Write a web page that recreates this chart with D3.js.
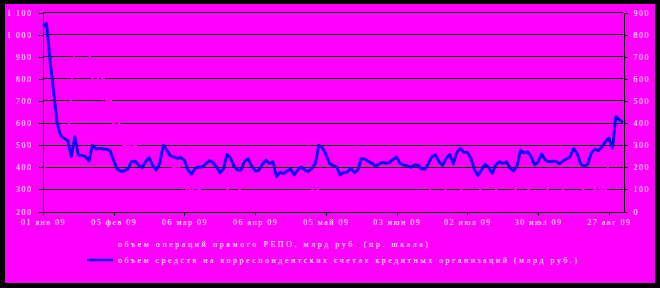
<!DOCTYPE html>
<html>
<head>
<meta charset="utf-8">
<script src="https://cdn.jsdelivr.net/npm/d3@7"></script>
<style>
	html, body { margin: 0; padding: 0; background: #000; }
	svg { display: block; }
	text { font-family: "Liberation Serif", "Times New Roman", serif; fill: #fff; }
</style>
</head>
<body>
<svg id="chart" width="660" height="288"></svg>
<script>
(function (d3) {

	// tick labels on the category axis, one every 20 trading days
	var tick_labels = ['01 янв 09', '05 фев 09', '06 мар 09', '06 апр 09', '05 май 09',
		'03 июн 09', '02 июл 09', '30 июл 09', '27 авг 09'];
	var tick_every = 20;

	var left_ticks = [200, 300, 400, 500, 600, 700, 800, 900, 1000, 1100];
	var right_ticks = [0, 100, 200, 300, 400, 500, 600, 700, 800, 900];

	var series_names = [
		'объем операций прямого РЕПО, млрд руб. (пр. шкала)',
		'объем средств на корреспондентских счетах кредитных организаций (млрд руб.)'
	];

	// correspondent accounts, bn rub (left axis)
	var corr_accounts = [
		1033, 1049, 880, 740, 595, 541, 529, 517, 446, 536,
		453, 452, 446, 426, 498, 480, 483, 480, 480, 471,
		426, 390, 379, 382, 390, 423, 426, 408, 396, 423,
		441, 405, 385, 415, 498, 476, 450, 444, 438, 441,
		429, 385, 366, 393, 399, 399, 414, 428, 421, 400,
		373, 390, 456, 441, 403, 385, 385, 426, 435, 405,
		381, 384, 411, 430, 415, 423, 355, 375, 369, 381,
		390, 363, 385, 400, 385, 378, 393, 415, 498, 486,
		456, 415, 405, 400, 363, 375, 376, 393, 373, 385,
		438, 434, 425, 415, 402, 413, 420, 415, 420, 434,
		443, 413, 408, 405, 397, 408, 408, 390, 390, 415,
		446, 453, 423, 406, 438, 456, 413, 465, 483, 465,
		465, 438, 385, 360, 387, 411, 397, 370, 408, 423,
		415, 423, 396, 381, 402, 475, 462, 468, 446, 408,
		423, 458, 431, 423, 425, 425, 413, 426, 435, 444,
		483, 461, 413, 402, 411, 461, 480, 473, 489, 514,
		529, 483, 627, 612, 600
	];

	// direct REPO, bn rub (right axis) - drawn in the background colour
	var repo = [
		150, 250, 260, 240, 270, 250, 230, 280, 560, 740,
		760, 720, 780, 730, 580, 660, 540, 620, 480, 520,
		380, 430, 350, 280, 320, 270, 310, 260, 240, 250,
		230, 260, 240, 250, 230, 240, 230, 180, 220, 170,
		130, 80, 120, 70, 110, 80, 70, 60, 50, 60,
		70, 80, 90, 120, 130, 110, 85, 80, 70, 60,
		75, 65, 70, 80, 60, 55, 65, 70, 75, 60,
		70, 80, 65, 70, 75, 85, 90, 115, 90, 80,
		70, 65, 60, 70, 75, 80, 70, 65, 60, 70,
		75, 80, 70, 65, 75, 80, 85, 70, 65, 70,
		75, 80, 85, 75, 70, 80, 85, 90, 85, 80,
		120, 130, 140, 125, 90, 80, 70, 85, 90, 115,
		120, 130, 140, 125, 85, 70, 75, 80, 90, 120,
		130, 125, 130, 115, 85, 75, 80, 90, 110, 130,
		140, 125, 115, 90, 80, 75, 85, 95, 115, 130,
		150, 130, 110, 90, 80, 85, 95, 90, 95, 90,
		240, 250, 230, 240, 260
	];

	var bg = '#ff00ff';
	var svg = d3.select('#chart');

	var margin = {left: 43, right: 623, top: 12, bottom: 211};

	var x = d3.scaleLinear().domain([0, corr_accounts.length - 1]).range([margin.left, margin.right]);
	var y_left = d3.scaleLinear().domain([200, 1100]).range([margin.bottom, margin.top]);
	var y_right = d3.scaleLinear().domain([0, 900]).range([margin.bottom, margin.top]);

	var fmt = d3.formatLocale({decimal: ',', thousands: ' ', grouping: [3], currency: ['', '']}).format(',d');

	svg.append('rect').attr('width', 660).attr('height', 288).attr('fill', '#000');
	svg.append('rect').attr('x', 5).attr('y', 4).attr('width', 650).attr('height', 279).attr('fill', bg);

	// gridlines
	svg.append('g')
		.selectAll('line')
		.data(left_ticks.slice(1))
		.join('line')
		.attr('x1', margin.left)
		.attr('x2', margin.right)
		.attr('y1', function(d) { return Math.round(y_left(d)) + 0.5; })
		.attr('y2', function(d) { return Math.round(y_left(d)) + 0.5; })
		.attr('stroke', '#000')
		.attr('shape-rendering', 'crispEdges');

	var repo_line = d3.line()
		.x(function(d, i) { return x(i); })
		.y(function(d) { return y_right(d); });

	var corr_line = d3.line()
		.x(function(d, i) { return x(i); })
		.y(function(d) { return y_left(d); });

	svg.append('path')
		.datum(repo)
		.attr('d', repo_line)
		.attr('fill', 'none')
		.attr('stroke', bg)
		.attr('stroke-width', 2.5);

	// axes
	var left_axis = d3.axisLeft(y_left).tickValues(left_ticks).tickSize(4).tickSizeOuter(0).tickPadding(6).tickFormat(fmt);
	var right_axis = d3.axisRight(y_right).tickValues(right_ticks).tickSize(4).tickSizeOuter(0).tickPadding(6).tickFormat(fmt);
	var bottom_axis = d3.axisBottom(x)
		.tickValues(d3.range(0, tick_labels.length * tick_every, tick_every))
		.tickSize(4).tickSizeOuter(0).tickPadding(4)
		.tickFormat(function(d) { return tick_labels[d / tick_every]; });

	function style_axis(g) {
		g.selectAll('path, line').attr('stroke', '#000').attr('shape-rendering', 'crispEdges');
		g.selectAll('text')
			.attr('fill', '#fff')
			.style('font-size', '8px')
			.style('letter-spacing', '1.5px');
		g.attr('font-family', null).attr('font-size', null);
	}

	svg.append('g').attr('transform', 'translate(' + (margin.left - 0.5) + ',0.5)').call(left_axis).call(style_axis);
	svg.append('g').attr('transform', 'translate(' + (margin.right + 0.5) + ',0.5)').call(right_axis).call(style_axis);
	svg.append('g').attr('transform', 'translate(0,' + (margin.bottom + 0.5) + ')').call(bottom_axis).call(style_axis);

	svg.append('path')
		.datum(corr_accounts)
		.attr('d', corr_line)
		.attr('fill', 'none')
		.attr('stroke', '#0000ff')
		.attr('stroke-width', 2.8)
		.attr('stroke-linejoin', 'round');

	// legend
	var legend = svg.append('g');
	var legend_rows = [
		{name: series_names[0], color: bg, y: 244, width: 310},
		{name: series_names[1], color: '#0000ff', y: 260, width: 459}
	];

	legend.selectAll('line')
		.data(legend_rows)
		.join('line')
		.attr('x1', 87).attr('x2', 113)
		.attr('y1', function(d) { return d.y; })
		.attr('y2', function(d) { return d.y; })
		.attr('stroke', function(d) { return d.color; })
		.attr('stroke-width', 2.5);

	legend.selectAll('text')
		.data(legend_rows)
		.join('text')
		.attr('x', 118)
		.attr('y', function(d) { return d.y + 3; })
		.attr('textLength', function(d) { return d.width; })
		.attr('lengthAdjust', 'spacing')
		.style('font-size', '8px')
		.text(function(d) { return d.name; });

}(d3));
</script>
</body>
</html>
